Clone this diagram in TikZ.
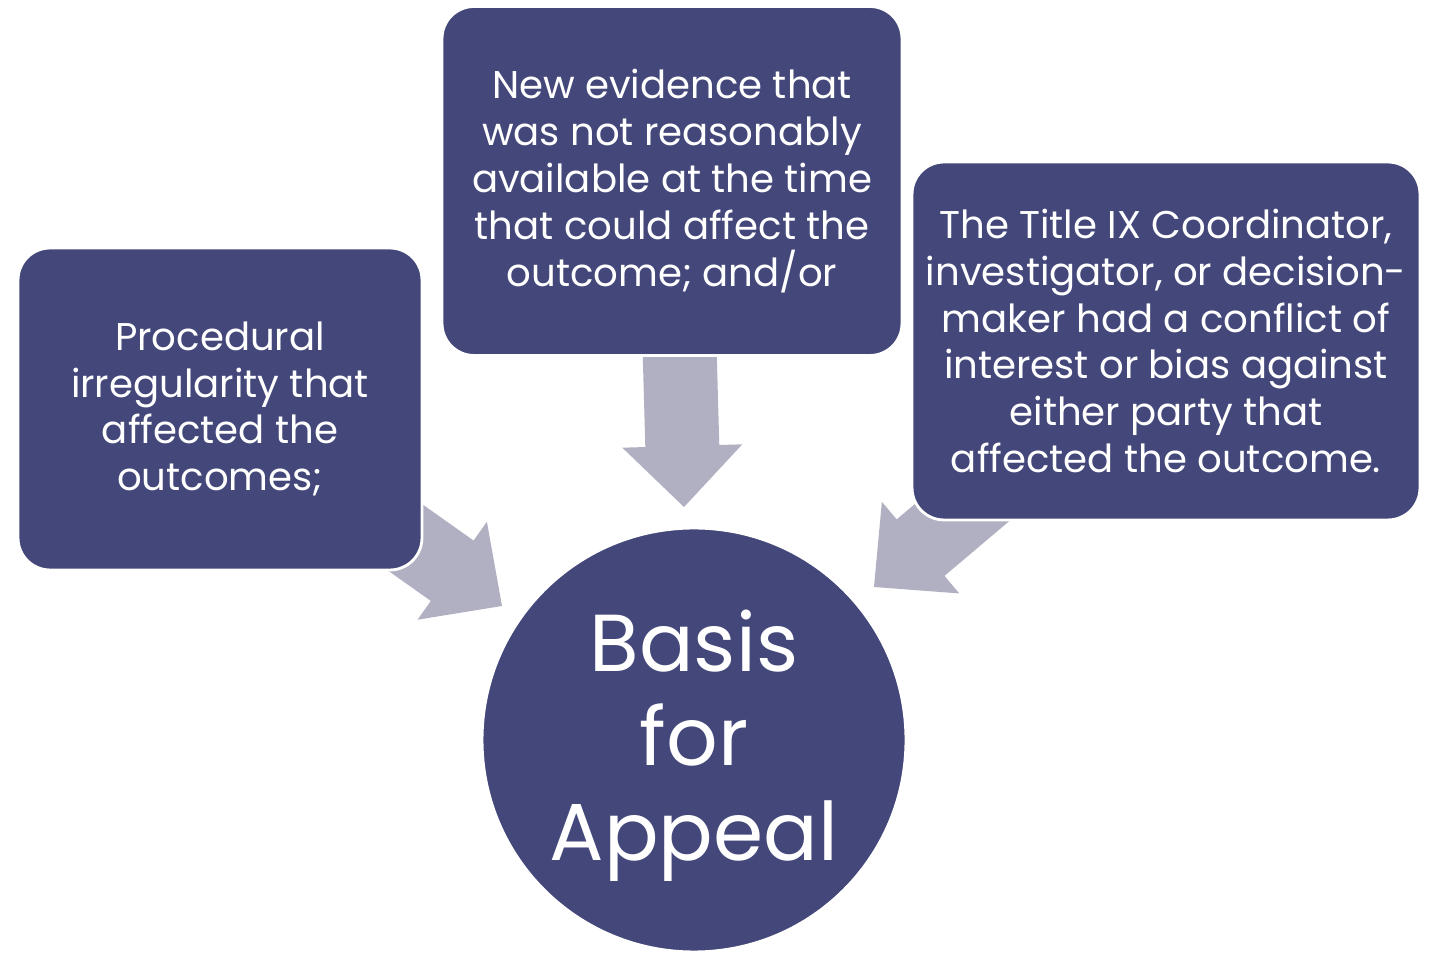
\documentclass[tikz,border=0pt]{standalone}
\usepackage{fontspec}
\setmainfont{Poppins}
\usetikzlibrary{calc}

\definecolor{boxblue}{RGB}{67,71,121}
\definecolor{arrowgray}{RGB}{176,176,194}

\tikzset{
    reasonbox/.style = {rectangle, rounded corners = .64cm, fill = boxblue, draw = white,
        line width = 1.6pt, text = white, align = center, inner sep = 0pt,
        font = \fontsize{22}{26.7}\selectfont},
    basiscircle/.style = {circle, fill = boxblue, draw = white, line width = 1.6pt,
        text = white, align = center, inner sep = 0pt, minimum size = 8.48cm,
        font = \fontsize{46}{54}\selectfont},
    blockarrow/.style = {fill = arrowgray},
}

% block arrow with its tip at #1, pointing along angle #2
\newcommand{\drawblockarrow}[2]{
    \begin{scope}[shift = {(#1)}, rotate = #2]
        \fill [blockarrow] (0, 0) -- (-61, 60) -- (-61, 37) -- (-158, 37)
            -- (-158, -37) -- (-61, -37) -- (-61, -60) -- cycle;
    \end{scope}
}

\begin{document}
\begin{tikzpicture}[x = .02cm, y = .02cm]
    \useasboundingbox (0, 0) rectangle (1430, 953);

    % arrows go first, the boxes cover their tails
    \coordinate (tip left)  at (502, 347);
    \coordinate (tip top)   at (684, 446);
    \coordinate (tip right) at (874, 366);
    \drawblockarrow{tip left}{-35.3}
    \drawblockarrow{tip top}{-88.4}
    \drawblockarrow{tip right}{-139.8}

    \node [reasonbox, minimum width = 8.08cm, minimum height = 6.44cm] (procedural) at (220, 544)
        {Procedural\\irregularity that\\affected the\\outcomes;};
    \node [reasonbox, minimum width = 9.2cm, minimum height = 6.98cm] (evidence) at (672, 772)
        {New evidence that\\was not reasonably\\available at the time\\that could affect the\\outcome; and/or};
    \node [reasonbox, minimum width = 10.16cm, minimum height = 7.16cm] (conflict) at (1166, 612)
        {The Title IX Coordinator,\\investigator, or decision-\\maker had a conflict of\\interest or bias against\\either party that\\affected the outcome.};

    \node [basiscircle] (basis) at (694, 213)
        {\raisebox{-4pt}[\height][\depth]{\begin{tabular}{@{}c@{}}Basis\\for\\Appeal\end{tabular}}};

\end{tikzpicture}
\end{document}
